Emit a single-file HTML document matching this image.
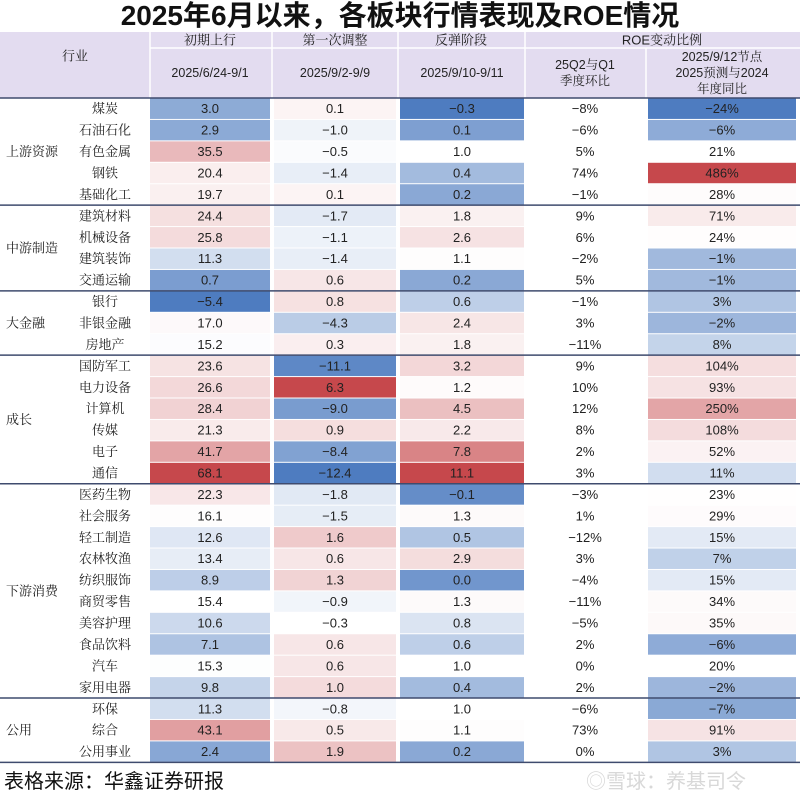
<!DOCTYPE html>
<html><head><meta charset="utf-8">
<style>
body{margin:0;background:#fff;width:800px;height:799px;overflow:hidden;position:relative;font-family:"Liberation Sans","Noto Sans CJK SC",sans-serif;}
#title{position:absolute;left:0;top:0;width:800px;text-align:center;font-size:28px;font-weight:bold;line-height:32px;color:#111;}
#foot{position:absolute;left:4px;top:768px;font-size:20px;color:#111;line-height:28px;}
#wm{position:absolute;left:586px;top:768px;font-size:20px;color:#d8d8d8;line-height:28px;}
svg text{font-family:"Liberation Sans","Noto Serif CJK SC",serif;}
</style></head><body>
<div id="title">2025年6月以来，各板块行情表现及ROE情况</div>
<svg id="tbl" width="800" height="799" style="position:absolute;left:0;top:0"></svg>
<div id="foot">表格来源：华鑫证券研报</div>
<div id="wm">◎雪球：养基司令</div>
<script>
const groups=["上游资源","中游制造","大金融","成长","下游消费","公用"];
const groupSizes=[5,4,3,6,10,3];
const industries=["煤炭","石油石化","有色金属","钢铁","基础化工","建筑材料","机械设备","建筑装饰","交通运输","银行","非银金融","房地产","国防军工","电力设备","计算机","传媒","电子","通信","医药生物","社会服务","轻工制造","农林牧渔","纺织服饰","商贸零售","美容护理","食品饮料","汽车","家用电器","环保","综合","公用事业"];
const phase1=[3.0,2.9,35.5,20.4,19.7,24.4,25.8,11.3,0.7,-5.4,17.0,15.2,23.6,26.6,28.4,21.3,41.7,68.1,22.3,16.1,12.6,13.4,8.9,15.4,10.6,7.1,15.3,9.8,11.3,43.1,2.4];
const phase2=[0.1,-1.0,-0.5,-1.4,0.1,-1.7,-1.1,-1.4,0.6,0.8,-4.3,0.3,-11.1,6.3,-9.0,0.9,-8.4,-12.4,-1.8,-1.5,1.6,0.6,1.3,-0.9,-0.3,0.6,0.6,1.0,-0.8,0.5,1.9];
const phase3=[-0.3,0.1,1.0,0.4,0.2,1.8,2.6,1.1,0.2,0.6,2.4,1.8,3.2,1.2,4.5,2.2,7.8,11.1,-0.1,1.3,0.5,2.9,0.0,1.3,0.8,0.6,1.0,0.4,1.0,1.1,0.2];
const roeQoQ=[-8,-6,5,74,-1,9,6,-2,5,-1,3,-11,9,10,12,8,2,3,-3,1,-12,3,-4,-11,-5,2,0,2,-6,73,0];
const roeYoY=[-24,-6,21,486,28,71,24,-1,-1,3,-2,8,104,93,250,108,52,11,23,29,15,7,15,34,35,-6,20,-2,-7,91,3];
const headTop=["初期上行","第一次调整","反弹阶段","ROE变动比例"];
const headSub=[["2025/6/24-9/1"],["2025/9/2-9/9"],["2025/9/10-9/11"],["25Q2与Q1","季度环比"],["2025/9/12节点","2025预测与2024","年度同比"]];

const svg=document.getElementById('tbl');const NS="http://www.w3.org/2000/svg";
function el(t,a,p){const e=document.createElementNS(NS,t);for(const k in a)e.setAttribute(k,a[k]);(p||svg).appendChild(e);return e;}
const cols=[[150,270],[274,396],[400,524],[526,644],[648,796]];
const top0=98,rh=21.43;
const hb=el('rect',{x:0,y:32,width:800,height:66,fill:'#e3dcf0'});


el('line',{x1:150,y1:48,x2:800,y2:48,stroke:'#fff','stroke-width':1.5});
[150,272,398,525].forEach(x=>el('line',{x1:x,y1:32,x2:x,y2:98,stroke:'#fff','stroke-width':1.5}));
el('line',{x1:646,y1:48,x2:646,y2:98,stroke:'#fff','stroke-width':1.5});
function txt(s,x,y,size,name,anchor){const t=el('text',{x:x,y:y,'font-size':size,'text-anchor':anchor||'middle','dominant-baseline':'central',fill:'#222'});t.textContent=s;return t;}
txt("行业",75,56,13,'header-industry');
const topCx=[210,335,461,662];
headTop.forEach((h,i)=>txt(h,topCx[i],40,13,'header-group'));
headSub.forEach((lines,i)=>{const cx=(cols[i][0]+cols[i][1])/2;const n=lines.length;lines.forEach((l,j)=>txt(l,cx,73+(j-(n-1)/2)*16,12.5,'header-period'));});
function q(a,p){const s=[...a].sort((x,y)=>x-y);const i=(s.length-1)*p;const lo=Math.floor(i),hi=Math.ceil(i);return s[lo]+(s[hi]-s[lo])*(i-lo);}
const blue=[78,124,192],red=[198,72,76];
function color(v,arr){const mn=Math.min(...arr),mx=Math.max(...arr),md=q(arr,0.5);let t,c;if(v>=md){t=(v-md)/((mx-md)||1);c=red;}else{t=(md-v)/((md-mn)||1);c=blue;t=Math.pow(t,0.85);}
return 'rgb('+[0,1,2].map(k=>Math.round(255+(c[k]-255)*t)).join(',')+')';}
const series=[phase1,phase2,phase3,roeQoQ,roeYoY];
industries.forEach((nm,r)=>{const y=top0+r*rh;
 txt(nm,105,y+rh/2,13,'industry-label');
 series.forEach((arr,c)=>{const v=arr[r];
  if(c!==3){const rc=el('rect',{x:cols[c][0],y:y+0.5,width:cols[c][1]-cols[c][0],height:rh-1,fill:color(v,arr)});
   
   }
  const s=(c>=3)?(v+'%'):v.toFixed(1);
  txt(s.replace('-','−'),(cols[c][0]+cols[c][1])/2,y+rh/2,13,'cell-value');
 });
});
let r0=0;
el('line',{x1:0,y1:top0,x2:800,y2:top0,stroke:'#3f4b6e','stroke-width':1.5});
groups.forEach((g,i)=>{const n=groupSizes[i];const yc=top0+(r0+n/2)*rh;
 txt(g,6,yc,13,'group-label','start');
 r0+=n;const yl=top0+r0*rh;
 const ln=el('line',{x1:0,y1:yl,x2:800,y2:yl,stroke:'#3f4b6e','stroke-width':1.5});
 
 
});
</script>
</body></html>
